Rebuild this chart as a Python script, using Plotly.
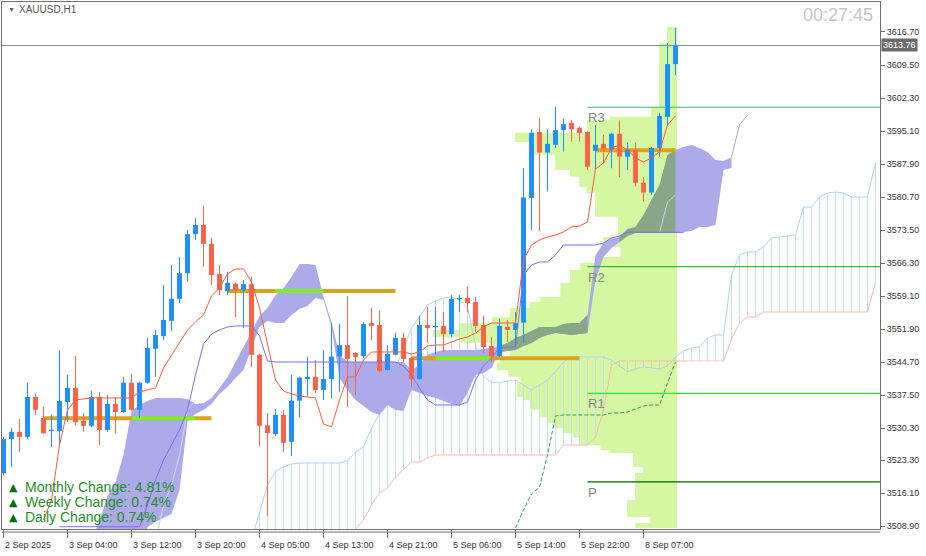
import plotly.graph_objects as go

# ---------------- data ----------------
opens = [3520.5, 3527.9, 3529.5, 3528.4, 3537.1, 3532.5, 3529.7, 3529.7, 3536.0, 3539.1,
         3531.9, 3530.8, 3537.1, 3529.9, 3535.6, 3533.8, 3540.2, 3534.3, 3540.2, 3547.6,
         3550.4, 3553.7, 3558.5, 3564.1, 3572.6, 3574.6, 3570.5, 3563.9, 3560.2, 3561.8,
         3560.4, 3561.7, 3546.3, 3530.9, 3529.0, 3533.2, 3527.3, 3536.3, 3541.0, 3541.5,
         3538.6, 3541.0, 3545.9, 3548.4, 3546.7, 3546.0, 3553.2, 3552.8, 3543.0, 3546.3,
         3550.0, 3545.6, 3541.0, 3552.8, 3552.3, 3552.6, 3550.8, 3558.4, 3558.7, 3557.8,
         3552.8, 3548.2, 3546.0, 3552.4, 3551.7, 3553.3, 3580.5, 3594.9, 3590.4, 3592.1,
         3595.3, 3596.9, 3595.8, 3594.9, 3590.8, 3592.3, 3591.1, 3594.5, 3589.5, 3591.0,
         3583.8, 3581.7, 3591.4, 3598.2, 3609.7]
highs = [3528.4, 3530.3, 3532.3, 3540.2, 3537.8, 3534.9, 3533.2, 3547.3, 3541.9, 3546.0,
         3533.6, 3538.4, 3538.2, 3537.5, 3537.1, 3541.5, 3542.1, 3540.4, 3550.0, 3551.7,
         3561.5, 3565.9, 3567.6, 3573.5, 3576.1, 3578.8, 3571.8, 3565.9, 3564.4, 3562.0,
         3562.6, 3563.3, 3546.5, 3533.6, 3534.5, 3534.3, 3541.9, 3541.5, 3545.9, 3545.2,
         3547.3, 3553.2, 3553.0, 3559.1, 3546.8, 3553.5, 3556.5, 3555.9, 3548.4, 3551.1,
         3551.1, 3545.8, 3554.8, 3556.7, 3556.7, 3555.6, 3559.3, 3559.3, 3561.1, 3558.9,
         3554.8, 3550.2, 3554.1, 3553.9, 3555.6, 3587.0, 3595.5, 3597.9, 3595.5, 3600.4,
         3597.7, 3597.5, 3596.0, 3595.0, 3596.4, 3594.2, 3594.7, 3597.4, 3592.6, 3592.6,
         3585.1, 3591.6, 3599.1, 3614.3, 3617.6]
lows = [3520.1, 3521.8, 3525.1, 3528.0, 3533.2, 3529.0, 3526.2, 3526.2, 3531.6, 3531.0,
        3529.5, 3530.5, 3526.6, 3529.5, 3529.2, 3533.6, 3534.1, 3532.5, 3540.0, 3541.5,
        3549.5, 3551.5, 3557.6, 3562.2, 3571.3, 3565.5, 3561.5, 3559.3, 3559.3, 3554.5,
        3552.1, 3543.6, 3526.4, 3511.1, 3528.6, 3525.1, 3524.2, 3532.7, 3537.2, 3538.0,
        3536.4, 3536.8, 3538.2, 3534.9, 3537.5, 3545.6, 3549.5, 3542.5, 3542.9, 3546.2,
        3544.7, 3539.3, 3540.8, 3548.9, 3546.3, 3546.9, 3550.2, 3555.6, 3555.6, 3551.3,
        3546.7, 3544.7, 3545.8, 3549.1, 3548.0, 3548.9, 3573.5, 3573.2, 3581.9, 3591.4,
        3590.6, 3592.8, 3592.8, 3586.6, 3586.6, 3588.1, 3587.0, 3585.1, 3586.6, 3583.0,
        3579.7, 3581.2, 3589.5, 3596.4, 3607.3]
closes = [3527.9, 3529.5, 3528.4, 3537.1, 3534.3, 3529.2, 3529.9, 3536.2, 3539.1, 3531.6,
          3530.8, 3537.1, 3529.9, 3535.6, 3533.8, 3540.2, 3534.3, 3540.2, 3547.8, 3550.6,
          3553.9, 3558.5, 3564.1, 3572.6, 3574.6, 3570.5, 3563.7, 3560.4, 3562.0, 3560.4,
          3561.7, 3546.3, 3530.8, 3529.2, 3533.2, 3527.1, 3536.3, 3541.3, 3541.5, 3538.6,
          3541.0, 3545.9, 3548.4, 3545.4, 3545.8, 3553.0, 3552.6, 3542.8, 3546.5, 3550.0,
          3545.4, 3541.0, 3552.8, 3552.1, 3552.6, 3550.8, 3558.5, 3558.7, 3557.6, 3552.6,
          3548.0, 3546.0, 3552.6, 3551.7, 3553.2, 3580.6, 3594.7, 3590.4, 3592.3, 3595.3,
          3596.6, 3595.5, 3594.7, 3587.3, 3592.1, 3591.2, 3594.5, 3589.5, 3591.0, 3583.8,
          3581.7, 3591.4, 3598.4, 3609.7, 3613.76]

# red moving line (bars 5..84)
red_start = 5
red_line = [3510.27, 3514.63, 3526.62, 3534.26, 3536.44, 3536.66, 3536.88, 3536.88, 3536.88, 3536.88,
            3536.88, 3536.88, 3538.2, 3538.62, 3539.06, 3543.42, 3546.25, 3548.87, 3551.71, 3553.45,
            3554.98, 3559.12, 3560.87, 3563.92, 3565.01, 3565.01, 3562.17, 3556.5, 3548.43, 3540.8,
            3538.4, 3537.75, 3537.31, 3537.09, 3536.88, 3531.2, 3530.55, 3536.44, 3541.46, 3541.46,
            3545.16, 3546.91, 3546.91, 3546.91, 3546.91, 3546.91, 3546.47, 3546.91, 3548.22, 3548.43,
            3548.43, 3549.09, 3549.74, 3550.18, 3551.05, 3552.36, 3553.23, 3553.23, 3553.23, 3553.23,
            3566.97, 3570.24, 3571.34, 3571.99, 3572.43, 3573.08, 3574.17, 3574.39, 3575.26, 3586.82,
            3588.13, 3591.4, 3592.05, 3590.96, 3589.22, 3588.35, 3589.22, 3590.53, 3596.42, 3598.38]

# slate-blue line (bars 7..84)
blue_start = 7
slate_line = [3508.8] * 11 + [3513.54, 3518.99, 3523.35, 3526.62, 3529.9, 3534.26, 3541.89, 3548.65,
              3550.83, 3551.71, 3552.36, 3552.58, 3552.58, 3552.58, 3550.4, 3544.95] + [3544.73] * 16 + \
             [3543.85, 3541.89, 3539.06, 3536.44, 3535.35, 3535.35, 3535.35, 3535.35, 3536.0, 3540.8,
              3543.85, 3545.6, 3547.78, 3548.0, 3548.0, 3563.7, 3565.88, 3566.54, 3566.54, 3568.06,
              3570.24, 3570.24, 3570.24, 3570.24, 3570.24, 3570.68, 3571.77, 3572.21, 3573.08, 3573.0,
              3573.0, 3573.0, 3573.0, 3573.0, 3573.0, 3573.0]

# shaded band (bars 11..91)
cloud_start = 11
cloud_top = [3506.0, 3510.05, 3515.5, 3518.56, 3524.44, 3534.04, 3535.35, 3536.22, 3536.88, 3536.88,
             3536.88, 3536.88, 3536.66, 3535.57, 3535.78, 3536.88, 3539.06, 3541.46, 3544.73, 3548.0,
             3551.27, 3554.76, 3556.5, 3559.34, 3560.87, 3563.27, 3566.1, 3566.1, 3565.88, 3558.91,
             3553.45, 3546.25, 3544.73, 3544.73, 3544.73, 3544.73, 3544.73, 3544.73, 3544.73, 3544.73,
             3542.98, 3544.07, 3546.25, 3546.91, 3547.34, 3547.34, 3547.34, 3547.34, 3547.34, 3547.56,
             3547.78, 3548.22, 3548.87, 3549.96, 3550.62, 3551.49, 3552.36, 3552.36, 3552.36, 3553.01,
             3553.23, 3553.23, 3554.98, 3568.06, 3570.68, 3571.55, 3571.99, 3573.73, 3574.17, 3576.79,
             3580.06, 3583.33, 3589.87, 3590.96, 3591.62, 3592.05, 3591.4, 3590.53, 3588.78, 3588.57,
             3589.44]
cloud_bot = [3500.0, 3500.0, 3500.0, 3500.0, 3500.0, 3500.0, 3500.0, 3508.74, 3509.83, 3510.7,
             3511.58, 3516.81, 3531.86, 3533.39, 3534.26, 3535.57, 3537.75, 3539.27, 3541.24, 3542.98,
             3547.78, 3552.36, 3553.67, 3553.23, 3553.23, 3554.98, 3556.28, 3556.94, 3558.69, 3558.25,
             3552.36, 3541.24, 3538.62, 3536.44, 3535.13, 3533.82, 3533.17, 3535.35, 3534.26, 3534.04,
             3538.62, 3537.97, 3537.31, 3536.88, 3536.22, 3535.57, 3535.13, 3537.97, 3541.89, 3542.33,
             3543.42, 3546.91, 3547.13, 3547.34, 3548.22, 3548.87, 3549.96, 3550.62, 3551.05, 3550.83,
             3550.62, 3550.83, 3551.05, 3562.61, 3567.63, 3569.59, 3570.9, 3572.21, 3572.86, 3572.86,
             3572.86, 3572.86, 3572.86, 3572.86, 3573.08, 3573.3, 3574.17, 3574.17, 3574.61, 3586.6,
             3587.04]
dark_ranges = [(62, 73), (77, 84)]
cloud_tail = [3589.44, 3596.42, 3598.6]          # bars 91..93

# forward spans (bars 31..109 and 43..109)
spanA_start = 31
spanA = [3505.9, 3512.01, 3517.9, 3520.95, 3521.83, 3522.48, 3522.7, 3522.7, 3522.7, 3522.7,
         3522.7, 3522.7, 3523.14, 3525.1, 3526.19, 3530.33, 3533.39, 3537.97, 3543.42, 3547.78,
         3552.14, 3554.54, 3557.16, 3558.03, 3558.69, 3558.91, 3558.25, 3556.5, 3548.43, 3541.46,
         3540.36, 3540.15, 3540.58, 3540.8, 3539.71, 3538.62, 3539.71, 3540.8, 3542.55, 3544.73,
         3545.82, 3545.82, 3545.82, 3545.82, 3545.82, 3545.16, 3543.85, 3542.55, 3543.2, 3543.64,
         3543.42, 3543.2, 3543.85, 3545.82, 3547.13, 3547.78, 3548.0, 3549.96, 3550.62, 3550.62,
         3563.7, 3568.06, 3568.72, 3568.72, 3569.81, 3571.77, 3571.99, 3572.21, 3572.43, 3578.53,
         3578.53, 3580.71, 3581.59, 3581.8, 3581.59, 3580.71, 3580.71, 3580.71, 3588.13]
spanB_start = 43
spanB = [3505.9, 3508.3, 3510.27, 3513.54, 3516.16, 3517.25, 3519.65, 3521.39, 3522.92, 3522.92,
         3523.79] + [3524.44] * 16 + [3526.62] * 4 + [3528.37, 3534.26, 3544.07] + [3544.95] * 14 + \
        [3549.74, 3553.23, 3554.54, 3554.54] + [3555.63] * 14 + [3562.17]

# dashed lagging line (bars 64..84)
lag_start = 64
lag_line = [3508.52, 3512.45, 3515.94, 3517.46, 3524.44, 3532.95, 3533.17, 3533.17, 3533.17, 3533.17,
            3533.17, 3533.17, 3533.6, 3533.6, 3533.82, 3534.48, 3535.13, 3535.35, 3535.35, 3540.15, 3544.73]

# light inner lines
inner_left_start, inner_left = 19, [3505.4, 3513.54, 3517.9, 3524.44, 3534.26, 3536.44]
inner_right_start, inner_right = 82, [3572.86, 3579.62, 3581.15]

# volume profile (price edges top->bottom, length in bars)
prof_edges = [3617.8, 3614.3, 3600.3, 3598.2, 3597.5, 3594.7, 3592.7, 3589.9, 3586.6, 3585.1,
              3582.9, 3581.6, 3576.4, 3572.0, 3569.8, 3567.6, 3566.3, 3564.8, 3562.0, 3558.9,
              3557.8, 3556.5, 3554.5, 3553.2, 3551.7, 3550.2, 3548.9, 3547.3, 3545.8, 3544.5,
              3543.0, 3541.5, 3540.2, 3537.1, 3536.4, 3534.3, 3532.7, 3531.4, 3530.3, 3529.2,
              3528.2, 3526.6, 3525.5, 3524.9, 3521.8, 3520.5, 3514.6, 3510.9, 3509.6, 3508.5]
prof_len = [1.25, 2.25, 3.25, 8.4, 11.25, 20.25, 18.4, 15.25, 13.4, 12.25,
            11.25, 10.25, 7.4, 9.25, 7.1, 10.1, 12.1, 13.4, 14.6, 17.1,
            18.4, 20.9, 23.1, 27.1, 30.5, 27.1, 23.0, 20.9, 22.1, 22.5,
            21.1, 19.6, 20.0, 19.25, 18.4, 17.1, 16.25, 15.5, 14.25, 13.0,
            12.1, 9.6, 8.4, 5.5, 4.25, 5.25, 6.25, 3.4, 5.25]
prof_right = 84.2

# level segments: (price, start bar, end bar, highlight start, highlight end)
gold_levels = [(3532.45, 5, 26, 16, 24), (3560.21, 28, 49, 34, 40),
               (3545.53, 51, 72, 54, 61), (3590.90, 74, 84, None, None)]

pivot_names = ["R3", "R2", "R1", "P"]
pivot_values = [3600.28, 3565.51, 3537.90, 3518.56]
pivot_colors = ["#3CB371", "#36BA36", "#2EE62E", "#006400"]
pivot_start = 73

last_price = 3613.76

y_ticks = [3616.70, 3609.50, 3602.30, 3595.10, 3587.90, 3580.70, 3573.50, 3566.30,
           3559.10, 3551.90, 3544.70, 3537.50, 3530.30, 3523.30, 3516.10, 3508.90]
x_tick_bars = [0, 8, 16, 24, 32, 40, 48, 56, 64, 72, 80]
x_tick_labels = ["2 Sep 2025", "3 Sep 04:00", "3 Sep 12:00", "3 Sep 20:00", "4 Sep 05:00",
                 "4 Sep 13:00", "4 Sep 21:00", "5 Sep 06:00", "5 Sep 14:00", "5 Sep 22:00", "8 Sep 07:00"]

change_labels = ["Monthly Change: 4.81%", "Weekly Change: 0.74%", "Daily Change: 0.74%"]

# ---------------- figure ----------------
W, H = 926, 556
ML, MR, MT, MB = 2, 46, 2, 27
PW, PH = W - ML - MR, H - MT - MB
FONT = "Liberation Sans, Arial, sans-serif"
UP, DOWN = "#1E90FF", "#FF6347"

def px(x):
    return (x - ML) / PW

def py(y):
    return 1 - (y - MT) / PH

fig = go.Figure()
BIG_LOW = 3500.0

# volume profile
xs, ys = [prof_right], [prof_edges[0]]
for k, ln in enumerate(prof_len):
    xs += [prof_right - ln, prof_right - ln]
    ys += [prof_edges[k], prof_edges[k + 1]]
xs += [prof_right, prof_right]
ys += [prof_edges[-1], prof_edges[0]]
fig.add_trace(go.Scatter(x=xs, y=ys, fill="toself", fillcolor="#D6F7A2", mode="none",
                         hoverinfo="skip"))

# hatch lines between forward spans
hb_x, hb_y, hp_x, hp_y = [], [], [], []
for j, a in enumerate(spanA):
    i = spanA_start + j
    b = spanB[i - spanB_start] if i >= spanB_start else BIG_LOW
    if b > a:
        hp_x += [i, i, None]; hp_y += [a, b, None]
    else:
        hb_x += [i, i, None]; hb_y += [a, b, None]
fig.add_trace(go.Scatter(x=hb_x, y=hb_y, mode="lines", line=dict(color="#C3DEF8", width=1),
                         hoverinfo="skip"))
fig.add_trace(go.Scatter(x=hp_x, y=hp_y, mode="lines", line=dict(color="#F3C6B8", width=1),
                         hoverinfo="skip"))
fig.add_trace(go.Scatter(x=list(range(spanA_start, spanA_start + len(spanA))), y=spanA,
                         mode="lines", line=dict(color="#AFD1F5", width=1), hoverinfo="skip"))
fig.add_trace(go.Scatter(x=list(range(spanB_start, spanB_start + len(spanB))), y=spanB,
                         mode="lines", line=dict(color="#F2BCAA", width=1), hoverinfo="skip"))

# shaded band
cx = list(range(cloud_start, cloud_start + len(cloud_top)))
fig.add_trace(go.Scatter(x=cx + cx[::-1], y=cloud_top + cloud_bot[::-1], fill="toself",
                         fillcolor="#ADAAEA", mode="none", hoverinfo="skip"))
for a, b in dark_ranges:
    sx = list(range(a, b + 1))
    st = cloud_top[a - cloud_start:b - cloud_start + 1]
    sb = cloud_bot[a - cloud_start:b - cloud_start + 1]
    fig.add_trace(go.Scatter(x=sx + sx[::-1], y=st + sb[::-1], fill="toself",
                             fillcolor="#88A788", mode="none", hoverinfo="skip"))
tail_start = cloud_start + len(cloud_top) - 1
fig.add_trace(go.Scatter(x=list(range(tail_start, tail_start + len(cloud_tail))), y=cloud_tail,
                         mode="lines", line=dict(color="#A7A4E6", width=1), hoverinfo="skip"))
fig.add_trace(go.Scatter(x=list(range(inner_left_start, inner_left_start + len(inner_left))),
                         y=inner_left, mode="lines", line=dict(color="#D2D4EE", width=1),
                         hoverinfo="skip"))
fig.add_trace(go.Scatter(x=list(range(inner_right_start, inner_right_start + len(inner_right))),
                         y=inner_right, mode="lines", line=dict(color="#C9CCE6", width=1),
                         hoverinfo="skip"))

# current price line
fig.add_trace(go.Scatter(x=[-1, 111], y=[last_price, last_price], mode="lines",
                         line=dict(color="#7D8C9A", width=1), hoverinfo="skip"))
# pivot lines
for v, c in zip(pivot_values, pivot_colors):
    fig.add_trace(go.Scatter(x=[pivot_start, 111], y=[v, v], mode="lines",
                             line=dict(color=c, width=1.2), hoverinfo="skip"))

# gold segments
for v, s, e, hs, he in gold_levels:
    fig.add_trace(go.Scatter(x=[s, e], y=[v, v], mode="lines",
                             line=dict(color="#D9A21F", width=4), hoverinfo="skip"))
    if hs is not None:
        fig.add_trace(go.Scatter(x=[hs, he], y=[v, v], mode="lines",
                                 line=dict(color="#80EE2A", width=4), hoverinfo="skip"))

# dashed lagging line
fig.add_trace(go.Scatter(x=list(range(lag_start, lag_start + len(lag_line))), y=lag_line,
                         mode="lines", line=dict(color="#2E9E5E", width=1, dash="4px,2px"),
                         hoverinfo="skip"))

# candles: wicks and bodies (drawn as scatter so they sit above the fills)
for up, col in [(True, UP), (False, DOWN)]:
    wx, wy, bx, by = [], [], [], []
    for i in range(len(opens)):
        if (closes[i] >= opens[i]) == up:
            wx += [i, i, None]; wy += [lows[i], highs[i], None]
            lo, hi = min(opens[i], closes[i]), max(opens[i], closes[i])
            if hi - lo < 0.25:
                hi = lo + 0.25
            bx += [i, i, None]; by += [lo, hi, None]
    fig.add_trace(go.Scatter(x=wx, y=wy, mode="lines", line=dict(color=col, width=1),
                             hoverinfo="skip"))
    fig.add_trace(go.Scatter(x=bx, y=by, mode="lines", line=dict(color=col, width=5),
                             hoverinfo="skip"))

# indicator lines over candles
fig.add_trace(go.Scatter(x=list(range(red_start, red_start + len(red_line))), y=red_line,
                         mode="lines", line=dict(color="#FF5A3C", width=1), hoverinfo="skip"))
fig.add_trace(go.Scatter(x=list(range(blue_start, blue_start + len(slate_line))), y=slate_line,
                         mode="lines", line=dict(color="#7B6FEE", width=1), hoverinfo="skip"))

ann = []
# pivot labels
for n, v in zip(pivot_names, pivot_values):
    ann.append(dict(x=pivot_start, y=v, xref="x", yref="y", text=n, showarrow=False,
                    xanchor="left", yanchor="top", xshift=-2, yshift=-1,
                    font=dict(family=FONT, size=13, color="#858585")))
# x labels
for b, t in zip(x_tick_bars, x_tick_labels):
    ann.append(dict(x=b, y=py(545), xref="x", yref="paper", text=t, showarrow=False,
                    xanchor="left", yanchor="middle", xshift=-1,
                    font=dict(family=FONT, size=9, color="#333333")))
# price tag
ann.append(dict(x=1, y=last_price, xref="paper", yref="y", text="3613.76", showarrow=False,
                xanchor="left", yanchor="middle", xshift=1, bgcolor="#6A6A6A",
                borderpad=1, font=dict(family=FONT, size=9, color="#FFFFFF")))
# title
ann.append(dict(x=px(6), y=py(10), xref="paper", yref="paper", text="▼", showarrow=False,
                xanchor="left", yanchor="middle", font=dict(family=FONT, size=7, color="#606060")))
ann.append(dict(x=px(17), y=py(10), xref="paper", yref="paper", text="XAUUSD,H1",
                showarrow=False, xanchor="left", yanchor="middle",
                font=dict(family=FONT, size=10, color="#555555")))
# clock
ann.append(dict(x=px(801), y=py(15), xref="paper", yref="paper", text="00:27:45",
                showarrow=False, xanchor="left", yanchor="middle",
                font=dict(family=FONT, size=18, color="#C4C4C4")))
# change texts
for k, t in enumerate(change_labels):
    yy = 487 + 15 * k
    ann.append(dict(x=px(7), y=py(yy), xref="paper", yref="paper", text="▲", showarrow=False,
                    xanchor="left", yanchor="middle",
                    font=dict(family="DejaVu Sans", size=11, color="#0A6E0A")))
    ann.append(dict(x=px(23), y=py(yy), xref="paper", yref="paper", text=t, showarrow=False,
                    xanchor="left", yanchor="middle",
                    font=dict(family=FONT, size=14, color="#1E8E1E")))

shapes = [dict(type="line", xref="paper", yref="paper", x0=0, x1=1, y0=-3 / PH, y1=-3 / PH,
               line=dict(color="#707070", width=1))]

fig.update_layout(
    template="none",
    width=W, height=H, margin=dict(l=ML, r=MR, t=MT, b=MB, autoexpand=False),
    paper_bgcolor="#FFFFFF", plot_bgcolor="#FFFFFF", showlegend=False,
    annotations=ann, shapes=shapes,
    xaxis=dict(range=[-0.1875, 109.5625], showgrid=False, zeroline=False, automargin=False,
               showline=True, linecolor="#6E6E6E", linewidth=1, mirror=True,
               tickvals=x_tick_bars, ticks="outside", ticklen=8, tickcolor="#6E6E6E",
               showticklabels=False, fixedrange=True),
    yaxis=dict(range=[3508.30, 3623.24], side="right", showgrid=False, zeroline=False,
               automargin=False,
               showline=True, linecolor="#6E6E6E", linewidth=1, mirror=True,
               tickvals=y_ticks, ticktext=["%.2f" % v for v in y_ticks],
               ticks="outside", ticklen=4, tickcolor="#6E6E6E",
               tickfont=dict(family=FONT, size=9, color="#333333"), fixedrange=True),
)

fig.write_html("out.html", config={"displayModeBar": False},
               post_script="document.body.style.margin='0';document.body.style.overflow='hidden';")
